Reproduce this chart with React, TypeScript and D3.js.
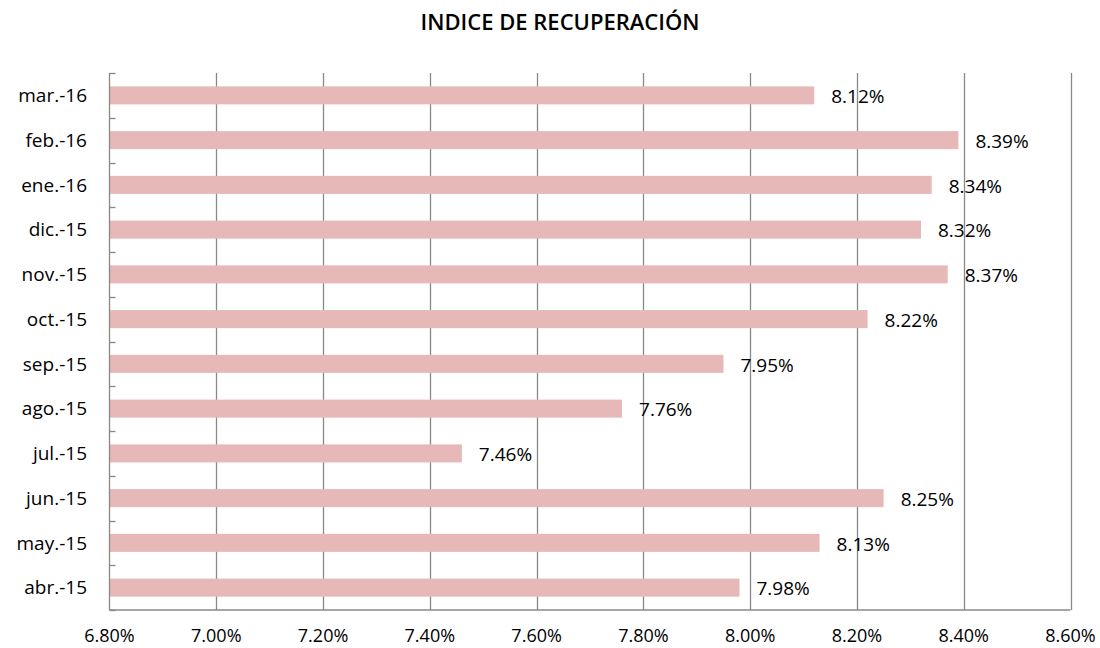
import React from "react";
import * as d3 from "d3";

const categories = ["mar.-16", "feb.-16", "ene.-16", "dic.-15", "nov.-15", "oct.-15", "sep.-15", "ago.-15", "jul.-15", "jun.-15", "may.-15", "abr.-15"];
const values = [8.12, 8.39, 8.34, 8.32, 8.37, 8.22, 7.95, 7.76, 7.46, 8.25, 8.13, 7.98];
const xTicks = [6.8, 7.0, 7.2, 7.4, 7.6, 7.8, 8.0, 8.2, 8.4, 8.6];
const title = "INDICE DE RECUPERACIÓN";

const W = 1100, H = 648;
const left = 109.5, right = 1070.5, top = 73, bottom = 610;
const FONT = "'Open Sans', 'DejaVu Sans', sans-serif";

export default function App() {
  const x = d3.scaleLinear().domain([6.8, 8.6]).range([left, right]);
  const y = d3.scaleBand().domain(categories).range([top, bottom]).paddingInner(0).paddingOuter(0);
  const bw = y.bandwidth();
  const barH = 18;
  const boundaries = d3.range(categories.length + 1).map((i) => top + i * bw);
  return (
    <svg width={W} height={H} style={{ position: "absolute", left: 0, top: 0, background: "#fff" }} fontFamily={FONT}>
      <text x={560} y={30} textAnchor="middle" fontSize={22} fontWeight={600} fill="#000">{title}</text>
      {xTicks.slice(1).map((t) => (
        <line key={t} x1={Math.round(x(t)) + 0.5} x2={Math.round(x(t)) + 0.5} y1={top} y2={bottom} stroke="#888" strokeWidth={1.3} />
      ))}
      {categories.map((c, i) => (
        <rect key={c} x={x(6.8)} y={(y(c) as number) + bw / 2 - barH / 2} width={x(values[i]) - x(6.8)} height={barH} fill="#e6b8b7" />
      ))}
      <line x1={left} x2={left} y1={top} y2={bottom} stroke="#888" strokeWidth={1.3} />
      <line x1={left} x2={right} y1={bottom} y2={bottom} stroke="#888" strokeWidth={1.3} />
      {boundaries.map((b, i) => (
        <line key={i} x1={left} x2={left + 6} y1={Math.round(b) + 0.5} y2={Math.round(b) + 0.5} stroke="#888" strokeWidth={1.3} />
      ))}
      {categories.map((c) => (
        <text key={c} x={87} y={(y(c) as number) + bw / 2} dy="0.35em" textAnchor="end" fontSize={19} fill="#000">{c}</text>
      ))}
      {categories.map((c, i) => (
        <text key={c} x={x(values[i]) + 17} y={(y(c) as number) + bw / 2 + 1} dy="0.35em" fontSize={19} fill="#000">{values[i].toFixed(2) + "%"}</text>
      ))}
      {xTicks.map((t) => (
        <text key={t} x={x(t)} y={642} textAnchor="middle" fontSize={18} fill="#000">{t.toFixed(2) + "%"}</text>
      ))}
    </svg>
  );
}
